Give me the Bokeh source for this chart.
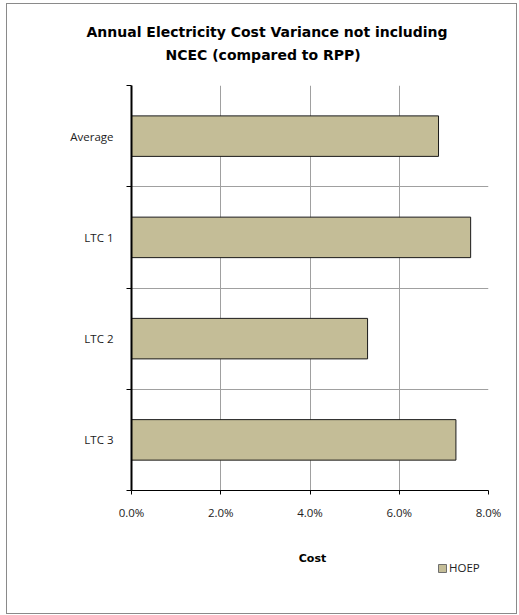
from bokeh.plotting import figure
from bokeh.layouts import column
from bokeh.models import (FixedTicker, NumeralTickFormatter, Legend,
                          LegendItem, Label, Title)
from bokeh.embed import file_html
from bokeh.resources import INLINE

# Annual electricity cost variance (HOEP, excluding NCEC) relative to RPP
categories = ["Average", "LTC 1", "LTC 2", "LTC 3"]
hoep = [0.0688, 0.0760, 0.0529, 0.0727]
x_ticks = [0.0, 0.02, 0.04, 0.06, 0.08]
title_lines = ["Annual Electricity  Cost Variance not including",
               "NCEC (compared to RPP)"]
series_name = "HOEP"
x_label = "Cost"

n = len(categories)
# first category at the top, one unit band per category
y_pos = [n - i - 0.5 for i in range(n)]
bands = list(range(n + 1))

TICK_FONT = "Open Sans"
TICK_SIZE = "11.5px"
TITLE_FONT = "DejaVu Sans"
BAR_FILL = "#C4BD97"
BAR_LINE = "#1a1a1a"
W = 509
LEFT, RIGHT = 124, 28  # side borders shared by every strip


def strip(height, top_border=0):
    """Blank figure sharing the chart's side borders, used for text above/below it."""
    f = figure(width=W, height=height, output_backend="svg", toolbar_location=None,
               x_range=(0, 1), y_range=(0, 1), x_axis_type=None, y_axis_type=None,
               min_border_left=LEFT, min_border_right=RIGHT,
               min_border_top=top_border, min_border_bottom=0)
    f.outline_line_color = None
    f.grid.visible = False
    f.background_fill_color = "white"
    f.border_fill_color = "white"
    return f


# ---- title strip: both lines stacked above an empty spacer frame
top = strip(80, top_border=58)
title_offsets = [-45, 34]
title_standoffs = [9, 0]
for i in reversed(range(len(title_lines))):
    top.add_layout(Title(text=title_lines[i], align="left", offset=title_offsets[i],
                         standoff=title_standoffs[i], vertical_align="bottom",
                         text_font=TITLE_FONT, text_font_style="bold",
                         text_font_size="14px", text_color="black"), "above")

# ---- bar chart
p = figure(width=W, height=446, output_backend="svg", toolbar_location=None,
           x_range=(0, x_ticks[-1]), y_range=(0, n),
           min_border_left=LEFT, min_border_right=RIGHT,
           min_border_top=1, min_border_bottom=40)
p.background_fill_color = "white"
p.border_fill_color = "white"
p.outline_line_color = None

bars = p.hbar(y=y_pos, left=0, right=hoep, height=0.4,
              fill_color=BAR_FILL, line_color=BAR_LINE, line_width=1)

xa = p.xaxis[0]
xa.ticker = FixedTicker(ticks=x_ticks)
xa.formatter = NumeralTickFormatter(format="0.0%")
xa.major_tick_out = 4
xa.major_tick_in = 0
xa.minor_tick_line_color = None
xa.axis_line_color = "black"
xa.axis_line_width = 1
xa.major_tick_line_color = "black"
xa.major_label_text_font = TICK_FONT
xa.major_label_text_font_size = TICK_SIZE
xa.major_label_text_color = "#222222"
xa.major_label_standoff = 10

# y axis: labels centred in each band, tick marks on the band edges
ya = p.yaxis[0]
ya.ticker = FixedTicker(ticks=y_pos, minor_ticks=bands)
ya.major_label_overrides = {y: c for y, c in zip(y_pos, categories)}
ya.major_tick_line_color = None
ya.major_tick_out = 0
ya.major_tick_in = 0
ya.minor_tick_out = 5
ya.minor_tick_in = 0
ya.minor_tick_line_color = "black"
ya.axis_line_color = "black"
ya.axis_line_width = 2
ya.major_label_text_font = TICK_FONT
ya.major_label_text_font_size = TICK_SIZE
ya.major_label_text_color = "#222222"
ya.major_label_standoff = 13

p.xgrid.ticker = FixedTicker(ticks=x_ticks)
p.ygrid.ticker = FixedTicker(ticks=bands)
for g in (p.xgrid[0], p.ygrid[0]):
    g.grid_line_color = "#a0a0a0"
    g.grid_line_width = 1

# ---- axis title and legend strip
bottom = strip(83)
bottom.add_layout(Label(x=181, y=55, x_units="screen", y_units="screen",
                        text=x_label, text_align="center", text_baseline="middle",
                        text_font=TITLE_FONT, text_font_style="bold",
                        text_font_size="11px", text_color="black"))
# legend swatch: one bar kept below this strip's visible range
swatch = bottom.hbar(y=[-1.0], left=[0.0], right=[1.0], height=0.4,
                     fill_color=BAR_FILL, line_color="#6f6f6f", line_width=1)
legend = Legend(items=[LegendItem(label=series_name, renderers=[swatch])],
                location=(306, 38), orientation="vertical",
                glyph_width=10, glyph_height=10, label_height=10, label_width=20,
                label_standoff=2, padding=0, margin=0, spacing=0,
                label_text_font=TICK_FONT, label_text_font_size=TICK_SIZE,
                label_text_color="#222222",
                background_fill_alpha=0, border_line_alpha=0)
bottom.add_layout(legend, "center")

layout = column(top, p, bottom, spacing=0,
                styles={"margin-left": "6px", "margin-top": "3px",
                        "border": "1px solid #8a8a8a", "background": "white"})

open("out.html", "w").write(file_html(layout, INLINE))
